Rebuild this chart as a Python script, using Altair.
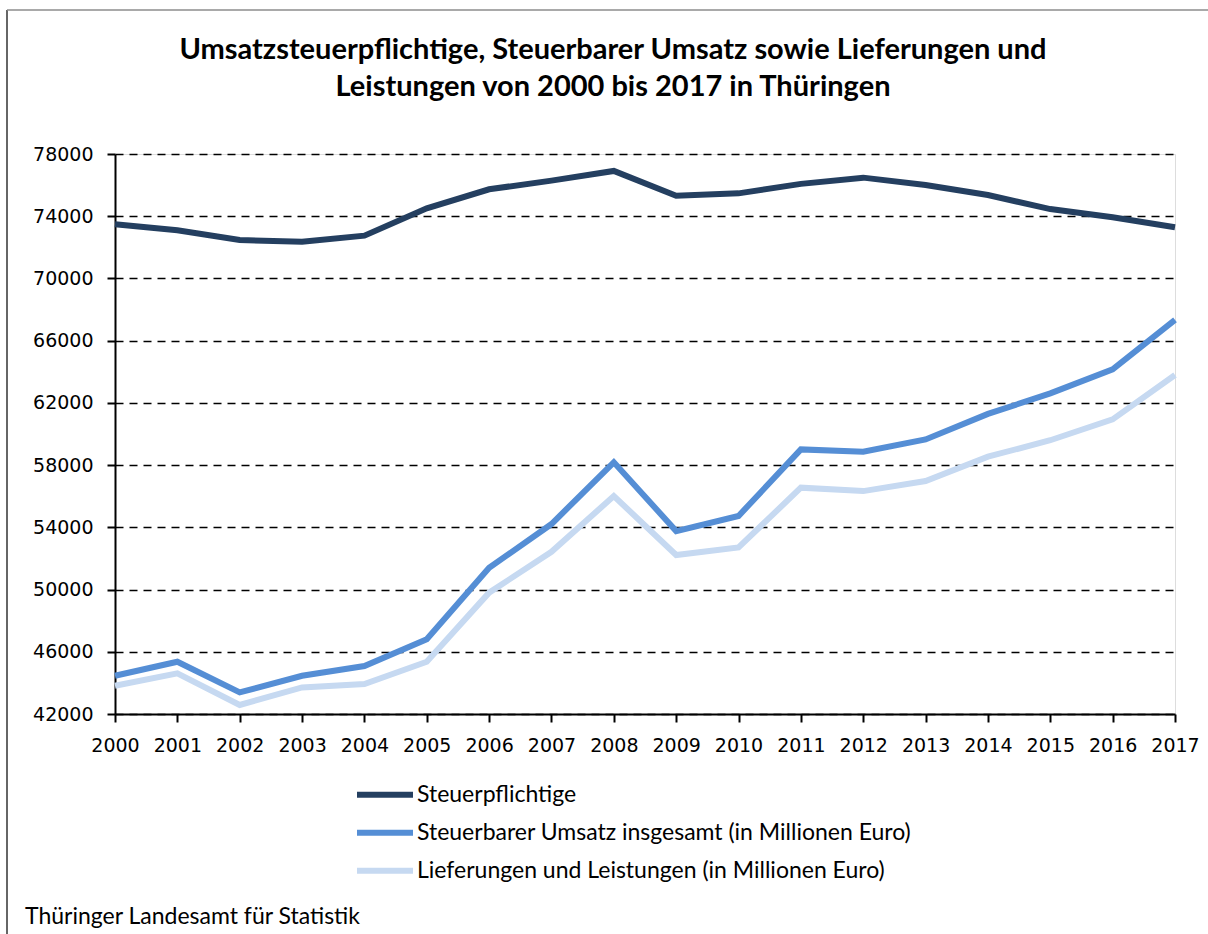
import altair as alt
import pandas as pd

years = list(range(2000, 2018))
steuerpflichtige = [73480, 73100, 72470, 72360, 72750, 74510, 75730, 76290, 76910,
                    75320, 75470, 76080, 76480, 76010, 75360, 74460, 73930, 73290]
umsatz = [44460, 45360, 43390, 44460, 45080, 46800, 51400, 54210, 58180,
          53760, 54730, 59010, 58860, 59650, 61290, 62610, 64160, 67330]
lieferungen = [43820, 44610, 42580, 43710, 43930, 45360, 49800, 52430, 56010,
               52220, 52710, 56550, 56330, 56980, 58540, 59600, 60940, 63790]
series_names = ["Steuerpflichtige",
                "Steuerbarer Umsatz insgesamt (in Millionen Euro)",
                "Lieferungen und Leistungen (in Millionen Euro)"]
colors = ["#243F60", "#558ED5", "#C6D9F1"]
y_ticks = list(range(42000, 78001, 4000))
title_lines = ["Umsatzsteuerpflichtige, Steuerbarer Umsatz sowie Lieferungen und",
               "Leistungen von 2000 bis 2017 in Thüringen"]
source_text = "Thüringer Landesamt für Statistik"

rows = []
for name, vals in zip(series_names, [steuerpflichtige, umsatz, lieferungen]):
    for y, v in zip(years, vals):
        rows.append({"Jahr": y, "Wert": v, "Reihe": name})
df = pd.DataFrame(rows)

lines = alt.Chart(df).mark_line(strokeWidth=6, strokeJoin="miter").encode(
    x=alt.X("Jahr:O", scale=alt.Scale(type="point", padding=0),
            axis=alt.Axis(title=None, labelAngle=0, domainColor="black", domainWidth=2,
                          tickColor="black", tickWidth=2, tickSize=8, labelPadding=14,
                          labelFont="DejaVu Sans", labelFontSize=19, labelColor="black",
                          grid=False)),
    y=alt.Y("Wert:Q", scale=alt.Scale(domain=[42000, 78000], nice=False, zero=False),
            axis=alt.Axis(title=None, values=y_ticks, format="d", domainColor="black",
                          domainWidth=2, tickColor="black", tickWidth=2, tickSize=8,
                          labelPadding=14, labelFont="DejaVu Sans", labelFontSize=19,
                          labelColor="black", grid=True, gridColor="black", gridWidth=1.6,
                          gridDash=[8, 6], gridOpacity=1)),
    color=alt.Color("Reihe:N", sort=series_names,
                    scale=alt.Scale(domain=series_names, range=colors),
                    legend=alt.Legend(title=None, orient="none", legendX=239, legendY=622,
                                      direction="vertical", symbolType="stroke",
                                      symbolStrokeWidth=6, symbolSize=3136,
                                      clipHeight=37.5, rowPadding=0,
                                      labelFont="Lato", labelFontSize=23, labelColor="black",
                                      labelOffset=1, labelLimit=800)),
    detail="Reihe:N",
)

one = pd.DataFrame({"a": [0]})
frame_left = alt.Chart(one).mark_rule(color="#333333", strokeWidth=1.5).encode(
    x=alt.value(-108), y=alt.value(-144), y2=alt.value(800))
frame_top = alt.Chart(one).mark_rule(color="#8c8c8c", strokeWidth=1.5).encode(
    x=alt.value(-108), x2=alt.value(1100), y=alt.value(-144))
title = alt.Chart(one).mark_text(align="center", baseline="alphabetic", font="Lato",
                                 fontSize=29, fontWeight="bold", color="black",
                                 lineHeight=37, text=title_lines).encode(
    x=alt.value(498), y=alt.value(-95))
source = alt.Chart(one).mark_text(align="left", baseline="middle", font="Lato",
                                  fontSize=23, color="black", text=source_text).encode(
    x=alt.value(-90), y=alt.value(763))

chart = alt.layer(frame_left, frame_top, lines, title, source).properties(
    width=1060, height=560,
    autosize=alt.AutoSizeParams(type="none"),
    padding={"left": 115, "top": 154, "right": 33, "bottom": 220},
).configure_view(stroke="black", strokeWidth=1.5).configure(background="white")

chart.save("out.html", embed_options={"renderer": "svg", "actions": False})
